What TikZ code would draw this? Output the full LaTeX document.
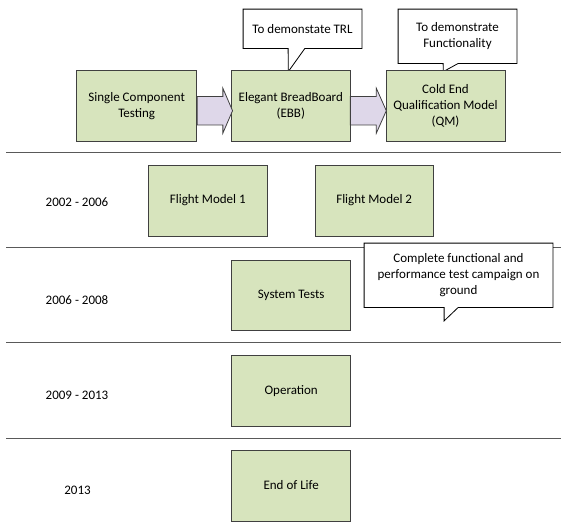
\documentclass[tikz,border=0pt]{standalone}
\usepackage{fontspec}
\setmainfont{Carlito}
\usetikzlibrary{backgrounds}
\definecolor{boxfill}{RGB}{215,228,189}
\definecolor{boxline}{RGB}{64,64,64}
\definecolor{arrowfill}{RGB}{222,215,233}
\definecolor{ruleline}{RGB}{89,89,89}
\begin{document}
\begin{tikzpicture}[x=1pt,y=-1pt,
  every node/.style={font=\fontsize{13}{16}\selectfont, inner sep=0pt, align=center},
  stagebox/.style={draw=boxline, fill=boxfill, line width=0.8pt, minimum height=71pt},
  yearlabel/.style={anchor=center},
  calloutbox/.style={minimum width=#1},
  calloutline/.style={draw=black, fill=white, line width=0.8pt, line join=miter},
  blockarrow/.style={draw=boxline, fill=arrowfill, line width=0.8pt, line join=miter},
  separator/.style={draw=ruleline, line width=1.5pt}]
\useasboundingbox (0,0) rectangle (561,522);

% development stages
\node[stagebox, minimum width=120pt] (sct) at (136.7,105.8) {Single Component\\Testing};
\node[stagebox, minimum width=118.3pt] (ebb) at (290.8,105.8) {Elegant BreadBoard\\(EBB)};
\node[stagebox, minimum width=119pt] (qm) at (445.5,105.8) {Cold End\\Qualification Model\\(QM)};

% flight models
\node[stagebox, minimum width=119pt] (fm1) at (207.8,200.5) {Flight Model 1};
\node[stagebox, minimum width=118.3pt] (fm2) at (374.2,200.5) {Flight Model 2};

% later phases
\node[stagebox, minimum width=119pt, minimum height=70.7pt] (st) at (291.2,295.3) {System Tests};
\node[stagebox, minimum width=119pt, minimum height=70.3pt] (op) at (291.2,390.8) {Operation};
\node[stagebox, minimum width=119pt] (eol) at (291.2,485.5) {End of Life};

% year labels
\node[yearlabel] (y1) at (77,201.7) {2002 - 2006};
\node[yearlabel] (y2) at (77,300) {2006 - 2008};
\node[yearlabel] (y3) at (77,395) {2009 - 2013};
\node[yearlabel] (y4) at (77.5,490) {2013};

% callout texts
\node[minimum width=118.4pt, minimum height=39pt] (c1) at (302.5,28.8) {To demonstate TRL};
\node[minimum width=118.4pt, minimum height=54pt] (c2) at (457.5,36.3) {To demonstrate\\Functionality};
\node[minimum width=188.4pt, minimum height=64pt] (c3) at (458.5,275.3) {Complete functional and\\performance test campaign on\\ground};
\coordinate (c3tip) at ([xshift=80pt,yshift=-13.4pt]c3.south west);

% block arrows between stages
\draw[blockarrow] ([yshift=9.3pt]sct.east) -- ([xshift=-8.4pt,yshift=9.3pt]ebb.west)
  -- ([xshift=-8.4pt,yshift=17.6pt]ebb.west) -- ([xshift=1.3pt,yshift=-4.9pt]ebb.west)
  -- ([xshift=-8.4pt,yshift=-27.4pt]ebb.west) -- ([xshift=-8.4pt,yshift=-19.1pt]ebb.west)
  -- ([yshift=-19.1pt]sct.east) -- cycle;
\draw[blockarrow] ([yshift=9.3pt]ebb.east) -- ([xshift=-9.3pt,yshift=9.3pt]qm.west)
  -- ([xshift=-9.3pt,yshift=17.6pt]qm.west) -- ([xshift=0.7pt,yshift=-4.9pt]qm.west)
  -- ([xshift=-9.3pt,yshift=-27.4pt]qm.west) -- ([xshift=-9.3pt,yshift=-19.1pt]qm.west)
  -- ([yshift=-19.1pt]ebb.east) -- cycle;

\begin{pgfonlayer}{background}
  % period separators
  \draw[separator] (6,152.7) -- (561,152.7);
  \draw[separator] (6,247.7) -- (561,247.7);
  \draw[separator] (6,342.7) -- (561,342.7);
  \draw[separator] (6,438.3) -- (561,438.3);
  % callout outlines
  \path[calloutline] (c1.north west) -- (c1.north east) -- (c1.south east)
    -- ([xshift=61.7pt]c1.south west) -- ([xshift=-2.5pt,yshift=-1.7pt]ebb.north)
    -- ([xshift=45pt]c1.south west) -- (c1.south west) -- cycle;
  \path[calloutline] (c2.north west) -- (c2.north east) -- (c2.south east)
    -- ([xshift=60pt]c2.south west) -- ([xshift=-2.2pt,yshift=-1.7pt]qm.north)
    -- ([xshift=45pt]c2.south west) -- (c2.south west) -- cycle;
  \path[calloutline] (c3.north west) -- (c3.north east) -- (c3.south east)
    -- ([xshift=94pt]c3.south west) -- (c3tip)
    -- ([xshift=80pt]c3.south west) -- (c3.south west) -- cycle;
\end{pgfonlayer}
\end{tikzpicture}
\end{document}
